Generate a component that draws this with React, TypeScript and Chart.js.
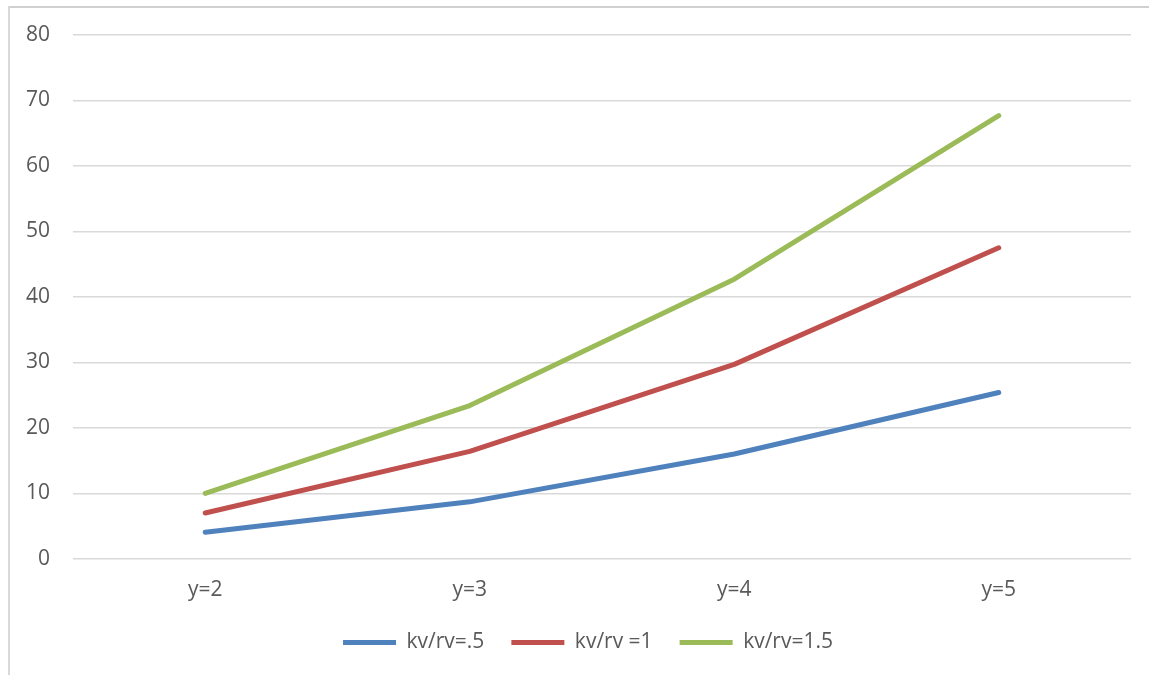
import React, { useEffect, useRef } from "react";
import { Chart, registerables } from "chart.js";

Chart.register(...registerables);

const categories = ["y=2", "y=3", "y=4", "y=5"];
const seriesNames = ["kv/rv=.5", "kv/rv =1", "kv/rv=1.5"];
const seriesA = [4.05, 8.7, 16.0, 25.4];
const seriesB = [7.0, 16.4, 29.7, 47.5];
const seriesC = [10.0, 23.4, 42.7, 67.7];
const seriesColors = ["#4f81bd", "#c0504d", "#9bbb59"];
const yMin = 0;
const yMax = 80;
const yStep = 10;

const FONT = "'Open Sans', 'Liberation Sans', sans-serif";
const TEXT = "#595959";
const GRID = "#d9d9d9";

const legendShift = {
  id: "legendShift",
  afterLayout(chart: any) {
    const l = chart.legend;
    if (l) {
      l.left += 37;
    }
  },
};

export default function App() {
  const canvasRef = useRef<HTMLCanvasElement | null>(null);

  useEffect(() => {
    if (!canvasRef.current) return;
    const values = [seriesA, seriesB, seriesC];
    const chart = new Chart(canvasRef.current, {
      type: "line",
      data: {
        labels: categories,
        datasets: values.map((v, i) => ({
          label: seriesNames[i],
          data: v,
          borderColor: seriesColors[i],
          backgroundColor: seriesColors[i],
          borderWidth: 5,
          borderCapStyle: "round" as const,
          borderJoinStyle: "round" as const,
          pointRadius: 0,
          tension: 0,
          fill: false,
        })),
      },
      plugins: [legendShift],
      options: {
        responsive: false,
        animation: false,
        layout: { padding: { left: 0, right: 18, top: 29, bottom: 12 } },
        plugins: {
          tooltip: { enabled: false },
          legend: {
            position: "bottom",
            labels: {
              boxWidth: 53,
              boxHeight: 5,
              padding: 27,
              color: TEXT,
              font: { family: FONT, size: 21 },
              generateLabels: (c: any) =>
                c.data.datasets.map((d: any, i: number) => ({
                  text: d.label,
                  fillStyle: d.borderColor,
                  strokeStyle: d.borderColor,
                  lineWidth: 0,
                  hidden: false,
                  datasetIndex: i,
                  fontColor: TEXT,
                })),
            },
          },
        },
        scales: {
          x: {
            offset: true,
            grid: { display: false, drawTicks: false, offset: true },
            border: { display: false },
            ticks: {
              color: TEXT,
              font: { family: FONT, size: 21 },
              padding: 19,
            },
            afterFit: (s: any) => {
              s.height = s.height - 17;
            },
          },
          y: {
            min: yMin,
            max: yMax,
            grid: {
              color: GRID,
              lineWidth: 1.5,
              drawTicks: true,
              tickLength: 13,
              tickColor: "rgba(0,0,0,0)",
            },
            border: { display: false },
            ticks: {
              stepSize: yStep,
              color: TEXT,
              font: { family: FONT, size: 21 },
              padding: 10,
            },
            afterFit: (s: any) => {
              s.width = 65;
            },
          },
        },
      },
    });
    return () => chart.destroy();
  }, []);

  return (
    <div
      style={{
        position: "absolute",
        left: 8,
        top: 6,
        width: 1141,
        height: 669,
        background: "#fff",
        overflow: "hidden",
      }}
    >
      <canvas
        ref={canvasRef}
        width={1141}
        height={669}
        style={{ position: "absolute", left: 0, top: 0 }}
      />
      <div
        style={{
          position: "absolute",
          left: 0,
          top: 0,
          width: 1141,
          height: 2,
          background: "#d0d0d0",
        }}
      />
      <div
        style={{
          position: "absolute",
          left: 0,
          top: 0,
          width: 2,
          height: 669,
          background: "#d9d9d9",
        }}
      />
    </div>
  );
}
